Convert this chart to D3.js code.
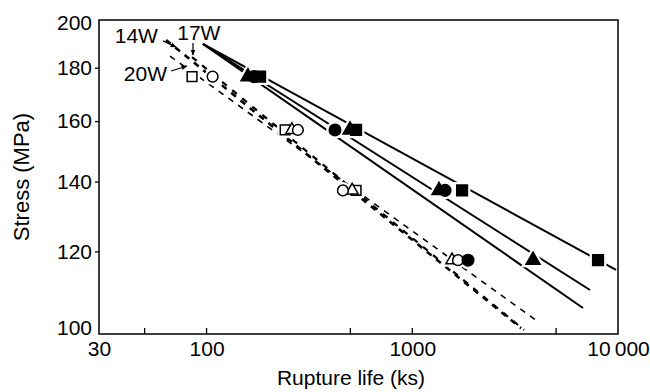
<!DOCTYPE html>
<html>
<head>
<meta charset="utf-8">
<script src="https://cdn.jsdelivr.net/npm/d3@7"></script>
<style>
  body { margin: 0; background: #fff; }
  svg { display: block; font-family: 'Liberation Sans', Arial, sans-serif; }
</style>
</head>
<body>
<div class="canvas"></div>
<script>
// stress levels of the tests (MPa), one row per level
const stressLevels = [176.5, 156.9, 137.3, 117.7];

// rupture life (ks) at each stress level, null = no point
const openSquareLife = [85, 241, 533, null];
const openTriangleLife = [null, 260, 510, 1561];
const openCircleLife = [107, 278, 460, 1669];
const filledTriangleLife = [159, 498, 1349, 3864];
const filledCircleLife = [170, 421, 1443, 1866];
const filledSquareLife = [182, 533, 1746, 7998];

// fitted lines, [life, stress] endpoints
const solidStart = [96, 189.7];
const solidCircleEnd = [6760, 105.9];
const solidTriangleEnd = [7310, 110.2];
const solidSquareEnd = [9780, 115.2];
const dashed14W = [[63.5, 191.4], [3380, 101.3]];
const dashed17W = [[85, 184.3], [3495, 100.9]];
const dashed20W = [[66.4, 184.7], [4040, 102.9]];

// ticks
const xLabelValues = [30, 100, 1000, 10000];
const xLabelText = ['30', '100', '1000', '10\u2009000'];
const xInnerTicks = [50, 100, 500, 1000, 5000];
const yLabelValues = [100, 120, 140, 160, 180, 200];
const yOuterTicks = [120, 140, 160, 180];

// labels with their arrows: text position, arrow from, arrow to
const annoNames = ['14W', '17W', '20W'];
const annoText = [[58, 190.1, 'end'], [72, 191.4, 'start'], [64.2, 174.8, 'end']];
const annoArrowFrom = [[61.4, 191.0], [85.9, 190.1], [67.2, 178.7]];
const annoArrowTo = [[71.0, 188.4], [85.9, 185.1], [80.3, 180.7]];

const width = 650, height = 392;
const margin = { top: 20, right: 32, bottom: 58, left: 99 };

const svg = d3.select('.canvas')
  .append('svg')
  .attr('width', width)
  .attr('height', height);

const x = d3.scaleLog()
  .domain([30, 10000])
  .range([margin.left, width - margin.right]);

const y = d3.scaleLog()
  .domain([100, 200])
  .range([height - margin.bottom, margin.top]);

svg.append('defs').append('marker')
  .attr('id', 'arrow')
  .attr('viewBox', '0 0 10 10')
  .attr('refX', 9).attr('refY', 5)
  .attr('markerWidth', 5).attr('markerHeight', 5)
  .attr('orient', 'auto')
  .append('path')
  .attr('d', 'M0,1L10,5L0,9Z')
  .attr('fill', '#000');

// frame
svg.append('rect')
  .attr('x', x.range()[0])
  .attr('y', y.range()[1])
  .attr('width', x.range()[1] - x.range()[0])
  .attr('height', y.range()[0] - y.range()[1])
  .attr('fill', 'none')
  .attr('stroke', '#000')
  .attr('stroke-width', 1.5);

// y axis
const yAxis = d3.axisLeft(y)
  .tickValues(yLabelValues)
  .tickFormat(d3.format('d'))
  .tickSize(4)
  .tickPadding(3);

const yAxisGroup = svg.append('g')
  .attr('transform', `translate(${margin.left}, 0)`)
  .call(yAxis);
yAxisGroup.select('.domain').remove();
yAxisGroup.selectAll('.tick line')
  .attr('stroke-width', 1.3)
  .attr('x2', d => yOuterTicks.includes(d) ? -4 : 0);
yAxisGroup.selectAll('.tick text')
  .attr('font-size', 21)
  .attr('fill', '#000')
  .attr('dy', d => d === 100 ? '-0.0em' : d === 200 ? '0.45em' : '0.32em');

// x axis labels
const xAxis = d3.axisBottom(x)
  .tickValues(xLabelValues)
  .tickFormat((d, i) => xLabelText[i])
  .tickSize(0)
  .tickPadding(7);

const xAxisGroup = svg.append('g')
  .attr('transform', `translate(0, ${height - margin.bottom})`)
  .call(xAxis);
xAxisGroup.select('.domain').remove();
xAxisGroup.selectAll('.tick text')
  .attr('font-size', 21)
  .attr('fill', '#000');

// inner x ticks
svg.append('g')
  .selectAll('line')
  .data(xInnerTicks)
  .enter().append('line')
  .attr('x1', d => x(d)).attr('x2', d => x(d))
  .attr('y1', y(100)).attr('y2', y(100) - 6)
  .attr('stroke', '#000')
  .attr('stroke-width', 1.3);

// axis titles
svg.append('text')
  .attr('x', 351)
  .attr('y', 385)
  .attr('text-anchor', 'middle')
  .attr('font-size', 21)
  .text('Rupture life (ks)');

svg.append('text')
  .attr('transform', `translate(29, ${(y.range()[0] + y.range()[1]) / 2}) rotate(-90)`)
  .attr('text-anchor', 'middle')
  .attr('font-size', 22)
  .text('Stress (MPa)');

// lines
const line = d3.line().x(d => x(d[0])).y(d => y(d[1]));

const solidLines = [
  [solidStart, solidCircleEnd],
  [solidStart, solidTriangleEnd],
  [solidStart, solidSquareEnd]
];
svg.append('g')
  .selectAll('path')
  .data(solidLines)
  .enter().append('path')
  .attr('d', line)
  .attr('fill', 'none')
  .attr('stroke', '#000')
  .attr('stroke-width', 2);

const dashedLines = [
  { pts: dashed14W, w: 2.6, dash: '6,6' },
  { pts: dashed17W, w: 2.2, dash: '6,7' },
  { pts: dashed20W, w: 1.6, dash: '6,6' }
];
svg.append('g')
  .selectAll('path')
  .data(dashedLines)
  .enter().append('path')
  .attr('d', d => line(d.pts))
  .attr('fill', 'none')
  .attr('stroke', '#000')
  .attr('stroke-width', d => d.w)
  .attr('stroke-dasharray', d => d.dash);

// points
const seriesDefs = [
  { life: openSquareLife, shape: d3.symbolSquare, size: 95, filled: false },
  { life: openTriangleLife, shape: d3.symbolTriangle, size: 65, filled: false },
  { life: openCircleLife, shape: d3.symbolCircle, size: 90, filled: false },
  { life: filledTriangleLife, shape: d3.symbolTriangle, size: 85, filled: true },
  { life: filledCircleLife, shape: d3.symbolCircle, size: 105, filled: true },
  { life: filledSquareLife, shape: d3.symbolSquare, size: 115, filled: true }
];

const points = [];
seriesDefs.forEach(s => {
  s.life.forEach((v, i) => {
    if (v != null) points.push({ life: v, stress: stressLevels[i], shape: s.shape, size: s.size, filled: s.filled });
  });
});

const symbolPath = d => d3.symbol().type(d.shape).size(d.size)();

// white halo first so the lines break around the markers
svg.append('g')
  .selectAll('path')
  .data(points)
  .enter().append('path')
  .attr('d', symbolPath)
  .attr('transform', d => `translate(${x(d.life)}, ${y(d.stress)})`)
  .attr('fill', '#fff')
  .attr('stroke', '#fff')
  .attr('stroke-width', 6);

svg.append('g')
  .selectAll('path')
  .data(points)
  .enter().append('path')
  .attr('d', symbolPath)
  .attr('transform', d => `translate(${x(d.life)}, ${y(d.stress)})`)
  .attr('fill', d => d.filled ? '#000' : '#fff')
  .attr('stroke', '#000')
  .attr('stroke-width', 1.5);

// annotations
const anno = svg.append('g');
annoNames.forEach((name, i) => {
  anno.append('text')
    .attr('x', x(annoText[i][0]))
    .attr('y', y(annoText[i][1]))
    .attr('text-anchor', annoText[i][2])
    .attr('font-size', 21)
    .text(name);
  anno.append('line')
    .attr('x1', x(annoArrowFrom[i][0])).attr('y1', y(annoArrowFrom[i][1]))
    .attr('x2', x(annoArrowTo[i][0])).attr('y2', y(annoArrowTo[i][1]))
    .attr('stroke', '#000')
    .attr('stroke-width', 1.2)
    .attr('marker-end', 'url(#arrow)');
});
</script>
</body>
</html>
